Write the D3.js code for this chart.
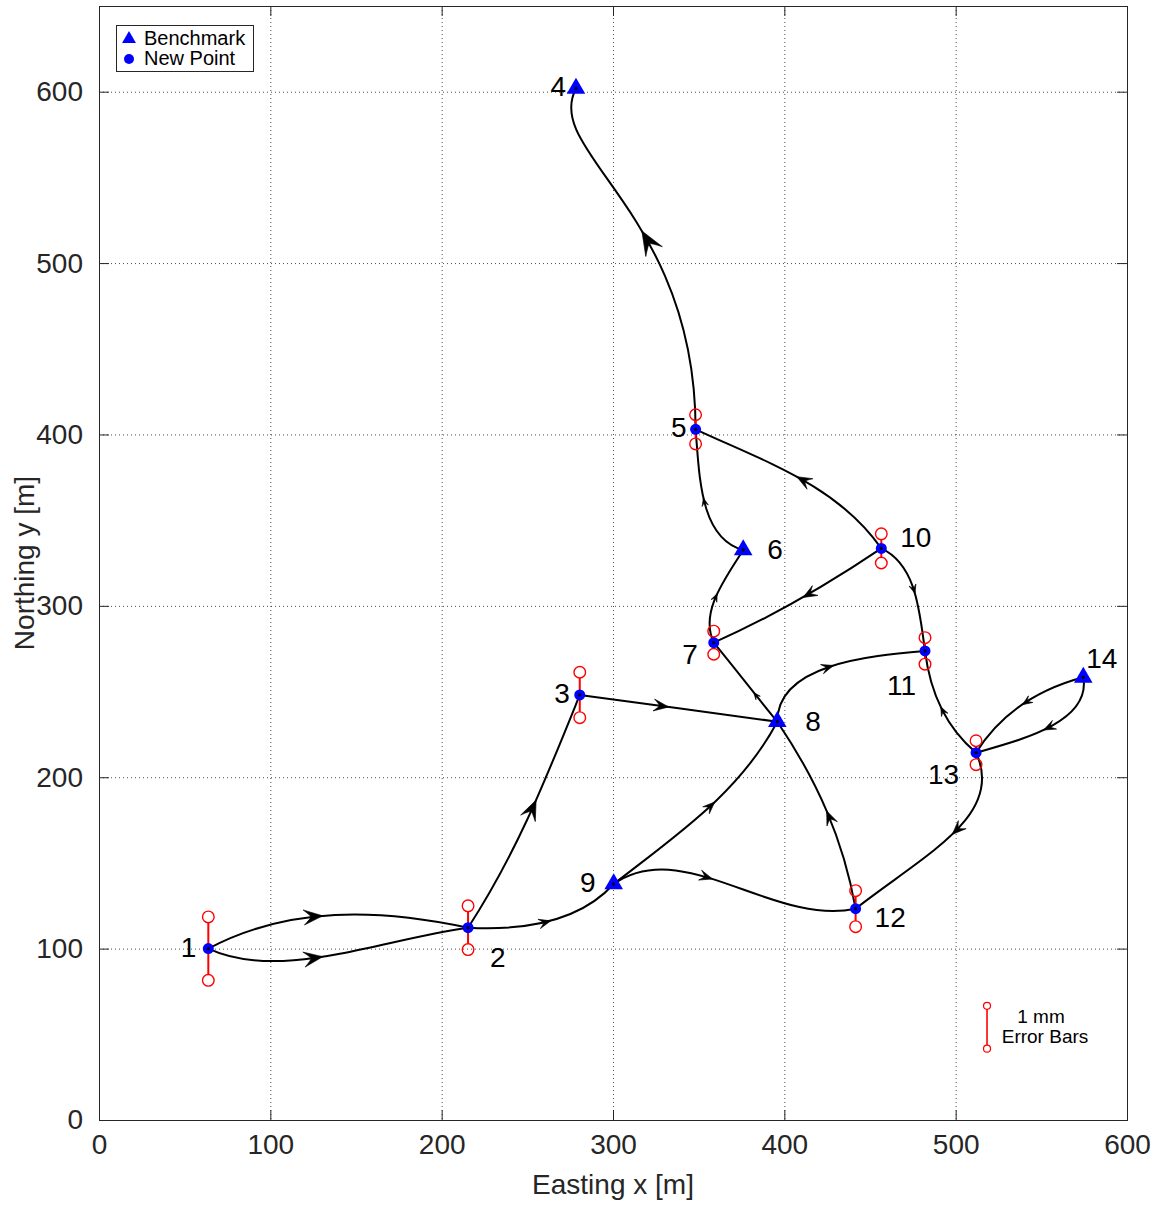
<!DOCTYPE html>
<html>
<head>
<meta charset="utf-8">
<script src="https://cdn.jsdelivr.net/npm/d3@7"></script>
<style>
  body { margin: 0; background: #fff; }
  text { font-family: "Liberation Sans", Arial, Helvetica, sans-serif; }
</style>
</head>
<body>
<svg id="chart" width="1164" height="1206"></svg>
<script>
// ---- Survey network stations ----
const stationIds = [1, 2, 3, 4, 5, 6, 7, 8, 9, 10, 11, 12, 13, 14];
const easting    = [63.8, 215.4, 280.6, 278.4, 348.2, 376.0, 358.8, 395.9, 300.4, 456.6, 482.1, 441.6, 511.9, 574.5];
const northing   = [100.0, 112.2, 248.0, 601.9, 403.0, 332.6, 278.5, 232.4, 137.7, 333.5, 273.7, 123.3, 214.3, 258.3];
const stationKind = ["new", "new", "new", "bench", "new", "bench", "new", "bench", "bench", "new", "new", "new", "new", "bench"];
// vertical standard error of each new point, mm (benchmarks are held fixed)
const sigmaMm    = [0.74, 0.51, 0.53, null, 0.34, null, 0.27, null, null, 0.34, 0.31, 0.42, 0.28, null];

// ---- Levelling legs (direction of run) ----
const legFrom   = [1, 1, 2, 2, 3, 9, 9, 12, 8, 8, 7, 6, 5, 10, 10, 10, 13, 14, 14, 13];
const legTo     = [2, 2, 3, 9, 8, 8, 12, 8, 7, 11, 6, 5, 4, 5, 7, 11, 11, 13, 13, 12];
// departure / arrival headings, degrees counter-clockwise from east
const legDepart = [28, -25, 57, -3, -7.8, 38, 35, 100, 129.5, 90, 115, 165, 90, 125, 214, -25, 140, 195, 280, 295];
const legArrive = [-12, 8, 68, 48, -7.8, 62, 12, 124, 129.5, 5, 58, 95, 62, 155, 204, -82, 97, 238, 196, 218];

// ---- Axis ticks ----
const xTicks = [0, 100, 200, 300, 400, 500, 600];
const yTicks = [0, 100, 200, 300, 400, 500, 600];

// ---- Layout & style ----
const svg = d3.select("#chart");
const plot = { left: 99, right: 1127, top: 6, bottom: 1120 };
const x = d3.scaleLinear().domain([0, 600]).range([plot.left, plot.right]);
const y = d3.scaleLinear().domain([0, 650]).range([plot.bottom, plot.top]);
const mmToMetres = 25;          // 1 mm of error drawn as 25 m of northing
const reach = [0.35, 0.35];     // default Bezier handle length as a fraction of the chord
const legReach = { 12: [0.6, 0.2], 1: [0.3, 0.35], 19: [0.35, 0.45] };
// arrowhead length (px) and where its tip sits along each leg (fraction of length)
const legHead = [19, 19, 20, 12, 15, 12, 13, 14, 7, 12, 8, 8, 24, 15, 14, 9, 9, 10, 12, 14];
const legHeadAt = [0.45, 0.44, 0.56, 0.53, 0.45, 0.56, 0.41, 0.5, 0.37, 0.48, 0.5, 0.5, 0.56, 0.5, 0.48, 0.5, 0.5, 0.5, 0.5, 0.43];
const labelOffset = {
  1: [-12, 8, "end"], 2: [22, 39, "start"], 3: [-10, 8, "end"], 4: [-10, 8, "end"],
  5: [-9, 8, "end"], 6: [24, 9, "start"], 7: [-16, 21, "end"], 8: [28, 9, "start"],
  9: [-18, 8, "end"], 10: [19, -1, "start"], 11: [-9, 44, "end"], 12: [19, 18, "start"],
  13: [-17, 31, "end"], 14: [3, -9, "start"]
};
const ink = "#262626";

// grid
const grid = svg.append("g").attr("stroke", "#000").attr("stroke-opacity", 0.7)
  .attr("stroke-width", 1).attr("stroke-dasharray", "1,3");
grid.selectAll("line.gx").data(xTicks.filter(v => v > 0 && v < 600)).join("line")
  .attr("x1", d => x(d) + 0.5).attr("x2", d => x(d) + 0.5)
  .attr("y1", plot.top).attr("y2", plot.bottom);
grid.selectAll("line.gy").data(yTicks.filter(v => v > 0)).join("line")
  .attr("y1", d => y(d) + 0.5).attr("y2", d => y(d) + 0.5)
  .attr("x1", plot.left).attr("x2", plot.right);

// axes (ticks point inward, box on all four sides)
const tickLen = 10;
const axB = svg.append("g").attr("transform", `translate(0,${plot.bottom})`)
  .call(d3.axisBottom(x).tickValues(xTicks).tickSizeInner(-tickLen).tickSizeOuter(0).tickPadding(14));
const axL = svg.append("g").attr("transform", `translate(${plot.left},0)`)
  .call(d3.axisLeft(y).tickValues(yTicks).tickSizeInner(-tickLen).tickSizeOuter(0).tickPadding(16));
const axT = svg.append("g").attr("transform", `translate(0,${plot.top})`)
  .call(d3.axisTop(x).tickValues(xTicks).tickSizeInner(-tickLen).tickSizeOuter(0).tickFormat(""));
const axR = svg.append("g").attr("transform", `translate(${plot.right},0)`)
  .call(d3.axisRight(y).tickValues(yTicks).tickSizeInner(-tickLen).tickSizeOuter(0).tickFormat(""));
[axB, axL, axT, axR].forEach(a => {
  a.select(".domain").remove();
  a.selectAll("line").attr("stroke", ink);
  a.selectAll("text").attr("fill", ink).attr("font-size", 28);
});
axB.selectAll("text").attr("dy", "0.71em");
svg.append("rect").attr("x", plot.left + 0.5).attr("y", plot.top + 0.5)
  .attr("width", plot.right - plot.left).attr("height", plot.bottom - plot.top)
  .attr("fill", "none").attr("stroke", ink).attr("stroke-width", 1);

// axis titles
svg.append("text").attr("x", (plot.left + plot.right) / 2).attr("y", 1194)
  .attr("text-anchor", "middle").attr("font-size", 28).attr("fill", ink).text("Easting x [m]");
svg.append("text").attr("transform", `translate(34,${(plot.top + plot.bottom) / 2}) rotate(-90)`)
  .attr("text-anchor", "middle").attr("font-size", 28).attr("fill", ink).text("Northing y [m]");

// ---- legs as cubic curves with arrowheads ----
const idx = id => stationIds.indexOf(id);
const rad = Math.PI / 180;
const legs = legFrom.map((f, i) => {
  const a = idx(f), b = idx(legTo[i]);
  const p0 = [x(easting[a]), y(northing[a])];
  const p3 = [x(easting[b]), y(northing[b])];
  const L = Math.hypot(p3[0] - p0[0], p3[1] - p0[1]);
  const [k0, k1] = legReach[i] || reach;
  const u0 = [Math.cos(legDepart[i] * rad), -Math.sin(legDepart[i] * rad)];
  const u1 = [Math.cos(legArrive[i] * rad), -Math.sin(legArrive[i] * rad)];
  const p = d3.path();
  p.moveTo(p0[0], p0[1]);
  p.bezierCurveTo(p0[0] + k0 * L * u0[0], p0[1] + k0 * L * u0[1],
                  p3[0] - k1 * L * u1[0], p3[1] - k1 * L * u1[1], p3[0], p3[1]);
  return { d: p.toString(), head: legHead[i], at: legHeadAt[i] };
});

const legG = svg.append("g");
legG.selectAll("path.leg").data(legs).join("path")
  .attr("class", "leg").attr("d", d => d.d)
  .attr("fill", "none").attr("stroke", "#000").attr("stroke-width", 2);

legG.selectAll("path.leg").each(function (d) {
  const len = this.getTotalLength();
  const tip = this.getPointAtLength(len * d.at);
  const back = this.getPointAtLength(len * d.at - 2);
  const ang = Math.atan2(tip.y - back.y, tip.x - back.x) / rad;
  const s = d.head;
  legG.append("path")
    .attr("d", `M0,0 L${-s},${-0.4 * s} Q${-0.62 * s},${-0.06 * s} ${-0.62 * s},0 Q${-0.62 * s},${0.06 * s} ${-s},${0.4 * s} Z`)
    .attr("transform", `translate(${tip.x},${tip.y}) rotate(${ang})`)
    .attr("fill", "#000").attr("stroke", "#000").attr("stroke-width", 0.6).attr("stroke-linejoin", "round");
});

// ---- error bars ----
const errR = 5.8;
const errG = svg.append("g").attr("stroke", "#ff0000").attr("fill", "none");
const errData = stationIds.map((id, i) => ({ i, s: sigmaMm[i] })).filter(d => d.s != null);
errData.forEach(d => {
  const cx = x(easting[d.i]);
  const top = y(northing[d.i] + d.s * mmToMetres);
  const bot = y(northing[d.i] - d.s * mmToMetres);
  errG.append("line").attr("x1", cx).attr("x2", cx).attr("y1", top + errR).attr("y2", bot - errR).attr("stroke-width", 2);
  errG.append("circle").attr("cx", cx).attr("cy", top).attr("r", errR).attr("stroke-width", 1.4);
  errG.append("circle").attr("cx", cx).attr("cy", bot).attr("r", errR).attr("stroke-width", 1.4);
});

// ---- station markers ----
const tri = s => `M0,${-2 * s / 3} L${s * 0.58},${s / 3} L${-s * 0.58},${s / 3} Z`;
const mk = svg.append("g");
stationIds.forEach((id, i) => {
  const cx = x(easting[i]), cy = y(northing[i]);
  if (stationKind[i] === "bench") {
    mk.append("path").attr("d", tri(16)).attr("transform", `translate(${cx},${cy})`).attr("fill", "#0000ff");
  } else {
    mk.append("circle").attr("cx", cx).attr("cy", cy).attr("r", 5.5).attr("fill", "#0000ff");
  }
  mk.append("circle").attr("cx", cx).attr("cy", cy).attr("r", 1.6).attr("fill", "#000");
  const [dx, dy, anchor] = labelOffset[id];
  mk.append("text").attr("x", cx + dx).attr("y", cy + dy).attr("text-anchor", anchor)
    .attr("font-size", 28).attr("fill", "#000").text(id);
});

// ---- legend ----
const lg = svg.append("g");
lg.append("rect").attr("x", 116.5).attr("y", 25.5).attr("width", 137).attr("height", 46)
  .attr("fill", "#fff").attr("stroke", ink).attr("stroke-width", 1);
lg.append("path").attr("d", tri(12)).attr("transform", "translate(129,39)").attr("fill", "#0000ff");
lg.append("circle").attr("cx", 129).attr("cy", 59).attr("r", 5).attr("fill", "#0000ff");
lg.append("text").attr("x", 144).attr("y", 45).attr("font-size", 20).attr("fill", "#000").text("Benchmark");
lg.append("text").attr("x", 144).attr("y", 65).attr("font-size", 20).attr("fill", "#000").text("New Point");

// ---- error bar key: 1 mm ----
const keyE = 518.3, keyN = 41.6;
const kg = svg.append("g");
kg.append("line").attr("x1", x(keyE)).attr("x2", x(keyE))
  .attr("y1", y(keyN + mmToMetres) + 3.5).attr("y2", y(keyN) - 3.5)
  .attr("stroke", "#ff0000").attr("stroke-width", 1.6);
[keyN, keyN + mmToMetres].forEach(n => kg.append("circle").attr("cx", x(keyE)).attr("cy", y(n))
  .attr("r", 3.5).attr("fill", "none").attr("stroke", "#ff0000").attr("stroke-width", 1.2));
kg.append("text").attr("x", 1041).attr("y", 1023).attr("text-anchor", "middle")
  .attr("font-size", 19).attr("fill", "#000").text("1 mm");
kg.append("text").attr("x", 1045).attr("y", 1043).attr("text-anchor", "middle")
  .attr("font-size", 19).attr("fill", "#000").text("Error Bars");
</script>
</body>
</html>
